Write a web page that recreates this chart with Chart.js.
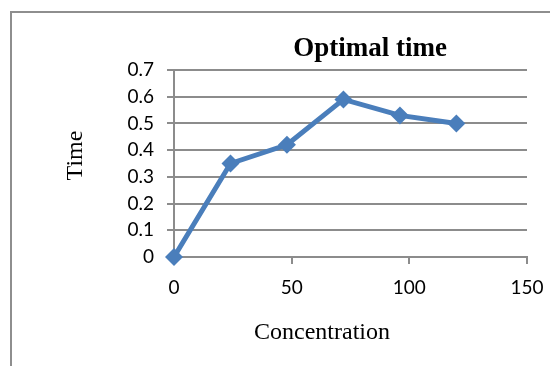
<!DOCTYPE html>
<html>
<head>
<meta charset="utf-8">
<script src="https://cdn.jsdelivr.net/npm/chart.js@4/dist/chart.umd.min.js"></script>
<style>
  html, body { margin: 0; padding: 0; background: #fff; overflow: hidden; }
  #frame { position: absolute; left: 10px; top: 11px; width: 600px; height: 400px; border: 2px solid #8e8e8e; }
  #wrap { position: absolute; left: 0; top: 0; width: 550px; height: 366px; }
</style>
</head>
<body>
<div id="frame"></div>
<div id="wrap"><canvas id="timeChart"></canvas></div>
<script>
var concentration = [0, 24, 48, 72, 96, 120];
var optimalTime = [0, 0.35, 0.42, 0.59, 0.53, 0.50];
var xTicks = [0, 50, 100, 150];
var yTicks = [0, 0.1, 0.2, 0.3, 0.4, 0.5, 0.6, 0.7];
var yLabels = ['0', '0.1', '0.2', '0.3', '0.4', '0.5', '0.6', '0.7'];

var chartTitle = 'Optimal time';
var xTitle = 'Concentration';
var yTitle = 'Time';

var points = [];
for (var i = 0; i < concentration.length; i++) {
    points.push({ x: concentration[i], y: optimalTime[i] });
}

var gridGrey = '#8c8c8c';
var blue = '#4a7ebb';

// title and axis names sit off-centre, so draw them relative to the plot box
var chartText = {
    id: 'chartText',
    afterDraw: function(chart) {
        var ctx = chart.ctx;
        var area = chart.chartArea;
        ctx.save();
        ctx.fillStyle = '#000';
        ctx.textAlign = 'center';
        ctx.textBaseline = 'middle';

        ctx.font = 'bold 27px "Liberation Serif"';
        ctx.fillText(chartTitle, 370, area.top - 21);

        ctx.font = '24px "Liberation Serif"';
        ctx.fillText(xTitle, 322, area.bottom + 76);

        ctx.translate(76, (area.top + area.bottom) / 2 - 8);
        ctx.rotate(-Math.PI / 2);
        ctx.fillText(yTitle, 0, 0);
        ctx.restore();
    }
};

var ctx = document.getElementById('timeChart').getContext('2d');
var chart = new Chart(ctx, {
    type: 'line',
    data: {
        datasets: [{
            label: yTitle,
            data: points,
            borderColor: blue,
            backgroundColor: blue,
            borderWidth: 5,
            tension: 0,
            pointStyle: 'rectRot',
            pointRadius: 9,
            pointBorderWidth: 0,
            pointBackgroundColor: blue,
            clip: false
        }]
    },
    options: {
        responsive: true,
        maintainAspectRatio: false,
        animation: false,
        layout: { padding: { top: 70, right: 23, left: 0, bottom: 0 } },
        plugins: {
            legend: { display: false },
            tooltip: { enabled: false },
            title: { display: false }
        },
        scales: {
            x: {
                type: 'linear',
                min: xTicks[0],
                max: xTicks[xTicks.length - 1],
                afterBuildTicks: function(scale) {
                    scale.ticks = xTicks.map(function(v) { return { value: v }; });
                },
                afterFit: function(scale) {
                    scale.height = 109;
                    // the end labels may hang past the plot edge
                    scale.paddingLeft = 0;
                    scale.paddingRight = 0;
                },
                grid: {
                    drawOnChartArea: false,
                    drawTicks: true,
                    tickLength: 7,
                    color: gridGrey,
                    lineWidth: 2
                },
                border: { color: gridGrey, width: 2 },
                ticks: {
                    padding: 12,
                    color: '#000',
                    font: { family: 'Lato', size: 19 },
                    maxRotation: 0
                }
            },
            y: {
                min: yTicks[0],
                max: yTicks[yTicks.length - 1],
                afterBuildTicks: function(scale) {
                    scale.ticks = yTicks.map(function(v) { return { value: v }; });
                },
                afterFit: function(scale) {
                    scale.width = 174;
                    scale.paddingTop = 0;
                    scale.paddingBottom = 0;
                },
                grid: {
                    drawTicks: true,
                    tickLength: 7,
                    color: gridGrey,
                    lineWidth: 2
                },
                border: { color: gridGrey, width: 2 },
                ticks: {
                    padding: 13,
                    color: '#000',
                    font: { family: 'Lato', size: 19 },
                    callback: function(value, index) { return yLabels[index]; }
                }
            }
        }
    },
    plugins: [chartText]
});
</script>
</body>
</html>
